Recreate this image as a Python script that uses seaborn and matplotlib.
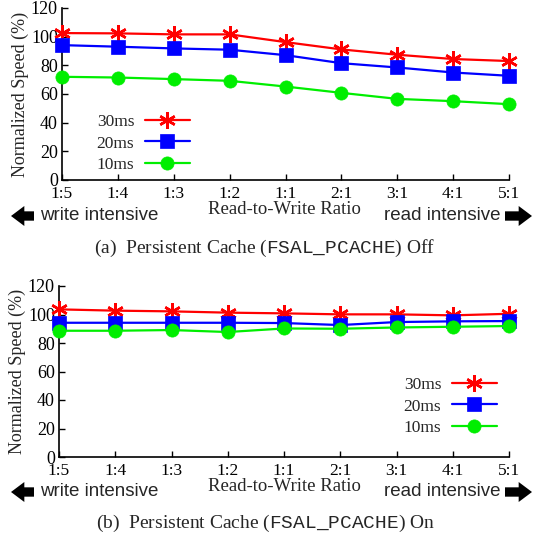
import matplotlib
matplotlib.use("Agg")
import matplotlib.pyplot as plt
import seaborn as sns
import pandas as pd

ratios = ["1:5", "1:4", "1:3", "1:2", "1:1", "2:1", "3:1", "4:1", "5:1"]
series_names = ["30ms", "20ms", "10ms"]

off_30ms = [102.5, 102.3, 101.6, 101.6, 96.2, 91.1, 87.4, 84.4, 83.0]
off_20ms = [94.1, 93.0, 91.8, 90.9, 87.1, 81.5, 78.5, 75.0, 72.7]
off_10ms = [72.0, 71.5, 70.4, 69.2, 65.2, 60.8, 56.6, 55.0, 52.9]

on_30ms = [103.6, 102.7, 102.2, 101.3, 100.8, 100.1, 100.1, 99.4, 100.5]
on_20ms = [94.2, 94.2, 94.2, 94.2, 94.0, 92.6, 94.7, 95.2, 95.4]
on_10ms = [88.6, 88.6, 89.1, 87.7, 90.2, 90.0, 90.9, 91.4, 91.9]

yticks = [0, 20, 40, 60, 80, 100, 120]

sns.set_theme(style="ticks")
plt.rcParams["font.family"] = ["Liberation Serif", "DejaVu Serif"]
plt.rcParams["mathtext.fontset"] = "custom"
plt.rcParams["mathtext.rm"] = "Liberation Serif"
plt.rcParams["mathtext.tt"] = "Liberation Mono"

W, H = 540, 539
fig = plt.figure(figsize=(W / 100, H / 100), dpi=100)

colors = {"30ms": "#ff0000", "20ms": "#0000ff", "10ms": "#00ee00"}
markers = {"30ms": (6, 2, 0), "20ms": "s", "10ms": "o"}
msizes = {"30ms": 12, "20ms": 9.5, "10ms": 9.5}


def px_axes(l, t, r, b):
    return fig.add_axes([l / W, 1 - b / H, (r - l) / W, (b - t) / H])


def draw_panel(ax, vals, legend_px, caption, lab_y, arrow_y, cap_y):
    df = pd.DataFrame({
        "ratio": ratios * 3,
        "speed": vals[0] + vals[1] + vals[2],
        "series": sum([[s] * len(ratios) for s in series_names], []),
    })
    handles = []
    for s in series_names:
        sub = df[df.series == s]
        sns.lineplot(data=sub, x="ratio", y="speed", ax=ax, color=colors[s],
                     marker=markers[s], markersize=msizes[s], linewidth=1.6,
                     markeredgecolor=colors[s], markeredgewidth=1.8 if s == "30ms" else 0.5,
                     sort=False, clip_on=False, zorder=3)
        handles.append(ax.lines[-1])
    ax.set_xlim(0, len(ratios) - 1)
    ax.set_ylim(0, 120)
    ax.set_yticks(yticks)
    ax.set_xticks(range(len(ratios)))
    ax.set_xticklabels(ratios)
    ax.tick_params(direction="in", length=4, width=1, labelsize=13, colors="black")
    ax.tick_params(axis="x", pad=4, labelsize=12.5)
    ax.tick_params(axis="y", pad=3)
    ax.set_xlabel("")
    ax.set_ylabel("Normalized Speed (%)", fontsize=13, labelpad=1)
    for sp in ["top", "right"]:
        ax.spines[sp].set_visible(False)
    for sp in ["left", "bottom"]:
        ax.spines[sp].set_linewidth(1.2)
        ax.spines[sp].set_color("black")
    ax.set_facecolor("white")
    ax.grid(False)
    ax.legend(handles, series_names, markerfirst=False, frameon=False,
              fontsize=12.5, handlelength=2.6, handletextpad=0.6,
              labelspacing=0.32, loc="upper left",
              bbox_to_anchor=(legend_px[0] / W, 1 - legend_px[1] / H),
              bbox_transform=fig.transFigure, borderpad=0)
    fig.text(284 / W, 1 - lab_y / H, "Read-to-Write Ratio", ha="center", va="center",
             fontsize=13.5)
    fig.text(40 / W, 1 - arrow_y / H, "write intensive", ha="left", va="center",
             fontsize=13.5, family=["Liberation Sans", "DejaVu Sans"])
    fig.text(500 / W, 1 - arrow_y / H, "read intensive", ha="right", va="center",
             fontsize=13.5, family=["Liberation Sans", "DejaVu Sans"])
    ap = dict(arrowstyle="simple,head_length=0.6,head_width=0.9,tail_width=0.42",
              color="black", lw=0, mutation_scale=16, shrinkA=0, shrinkB=0)
    fig.add_artist(plt.Annotation("", xy=(11 / W, 1 - arrow_y / H),
                                  xytext=(34 / W, 1 - arrow_y / H),
                                  xycoords="figure fraction", textcoords="figure fraction",
                                  arrowprops=ap))
    fig.add_artist(plt.Annotation("", xy=(532 / W, 1 - arrow_y / H),
                                  xytext=(505 / W, 1 - arrow_y / H),
                                  xycoords="figure fraction", textcoords="figure fraction",
                                  arrowprops=ap))
    fig.text(265 / W, 1 - cap_y / H, caption, ha="center", va="center", fontsize=14)


ax1 = px_axes(62, 8, 509, 180)
draw_panel(ax1, [off_30ms, off_20ms, off_10ms], (88, 105),
           r"(a)  Persistent Cache ($\mathtt{FSAL\_PCACHE}$) Off", 210, 216, 248)

ax2 = px_axes(59, 286, 509, 457)
draw_panel(ax2, [on_30ms, on_20ms, on_10ms], (395, 368),
           r"(b)  Persistent Cache ($\mathtt{FSAL\_PCACHE}$) On", 486.5, 492, 523)

fig.savefig("out.png", dpi=100, facecolor="white")
